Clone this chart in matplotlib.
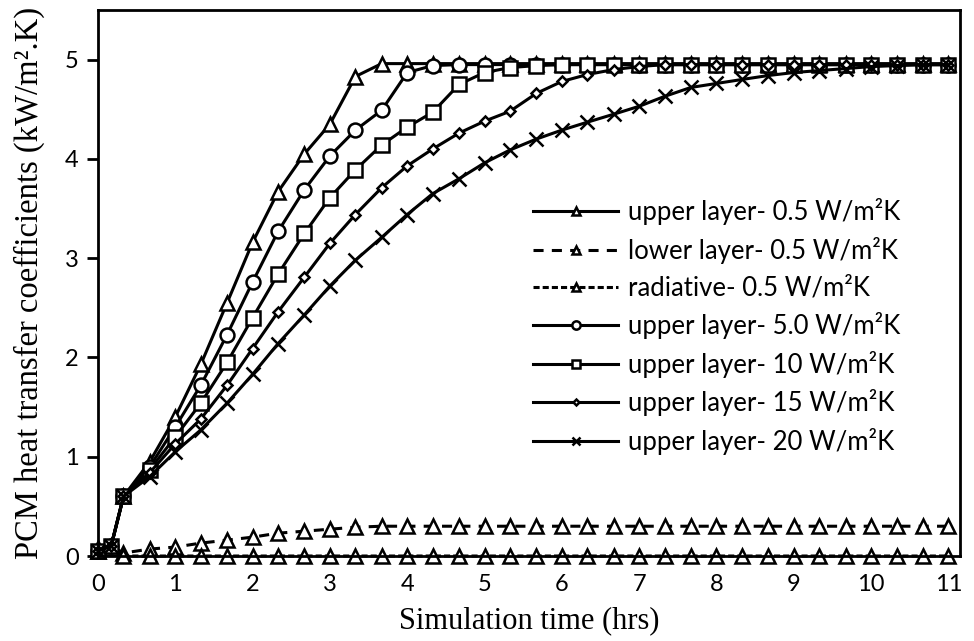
import matplotlib
matplotlib.use('Agg')
import matplotlib.pyplot as plt

# time axis (hrs)
t = [0.0, 0.17, 0.33, 0.67, 1.00, 1.33, 1.67, 2.00, 2.33, 2.67, 3.00, 3.33,
     3.67, 4.00, 4.33, 4.67, 5.00, 5.33, 5.67, 6.00, 6.33, 6.67, 7.00, 7.33,
     7.67, 8.00, 8.33, 8.67, 9.00, 9.33, 9.67, 10.00, 10.33, 10.67, 11.00]

# PCM heat transfer coefficients (kW/m2.K)
upper_05 = [0.05, 0.10, 0.60, 0.95, 1.40, 1.93, 2.55, 3.16, 3.67, 4.05, 4.35, 4.83,
            4.96, 4.96, 4.96, 4.96, 4.96, 4.96, 4.96, 4.96, 4.96, 4.96, 4.96, 4.96,
            4.96, 4.96, 4.96, 4.96, 4.96, 4.96, 4.96, 4.96, 4.96, 4.96, 4.96]
lower_05 = [0.05, 0.10, 0.03, 0.07, 0.09, 0.13, 0.16, 0.19, 0.23, 0.25, 0.27, 0.29,
            0.30, 0.30, 0.30, 0.30, 0.30, 0.30, 0.30, 0.30, 0.30, 0.30, 0.30, 0.30,
            0.30, 0.30, 0.30, 0.30, 0.30, 0.30, 0.30, 0.30, 0.30, 0.30, 0.30]
radiative_05 = [0.08, 0.08, 0.0, 0.0, 0.0, 0.0, 0.0, 0.0, 0.0, 0.0, 0.0, 0.0,
                0.0, 0.0, 0.0, 0.0, 0.0, 0.0, 0.0, 0.0, 0.0, 0.0, 0.0, 0.0,
                0.0, 0.0, 0.0, 0.0, 0.0, 0.0, 0.0, 0.0, 0.0, 0.0, 0.0]
upper_5 = [0.05, 0.10, 0.60, 0.90, 1.30, 1.72, 2.23, 2.76, 3.27, 3.69, 4.03, 4.29,
           4.49, 4.87, 4.94, 4.95, 4.95, 4.95, 4.95, 4.95, 4.95, 4.95, 4.95, 4.95,
           4.95, 4.95, 4.95, 4.95, 4.95, 4.95, 4.95, 4.95, 4.95, 4.95, 4.95]
upper_10 = [0.05, 0.10, 0.60, 0.87, 1.20, 1.54, 1.95, 2.40, 2.84, 3.25, 3.61, 3.89,
            4.14, 4.32, 4.47, 4.75, 4.87, 4.92, 4.94, 4.95, 4.95, 4.95, 4.95, 4.95,
            4.95, 4.95, 4.95, 4.95, 4.95, 4.95, 4.95, 4.95, 4.95, 4.95, 4.95]
upper_15 = [0.05, 0.10, 0.60, 0.84, 1.13, 1.38, 1.72, 2.09, 2.46, 2.81, 3.15, 3.44,
            3.71, 3.93, 4.10, 4.26, 4.38, 4.48, 4.66, 4.78, 4.85, 4.90, 4.93, 4.95,
            4.95, 4.95, 4.95, 4.95, 4.95, 4.95, 4.95, 4.95, 4.95, 4.95, 4.95]
upper_20 = [0.05, 0.10, 0.60, 0.80, 1.05, 1.27, 1.54, 1.83, 2.14, 2.43, 2.72, 2.98,
            3.21, 3.44, 3.65, 3.80, 3.96, 4.09, 4.20, 4.29, 4.37, 4.45, 4.53, 4.63,
            4.72, 4.76, 4.80, 4.84, 4.87, 4.89, 4.91, 4.93, 4.94, 4.95, 4.95]

labels = ['upper layer- 0.5 W/m²K', 'lower layer- 0.5 W/m²K', 'radiative- 0.5 W/m²K',
          'upper layer- 5.0 W/m²K', 'upper layer- 10 W/m²K', 'upper layer- 15 W/m²K',
          'upper layer- 20 W/m²K']

lw = 2.2
ms = 10
sans = 'Lato'
serif = 'Liberation Serif'

fig = plt.figure(figsize=(9.74, 6.41), dpi=100)
ax = fig.add_axes([0.1006, 0.1326, 0.885, 0.8518])

common = dict(color='black', lw=lw, mfc='white', mec='black', mew=1.8, clip_on=False)
ax.plot(t, upper_05, '^-', ms=ms, label=labels[0], **common)
ax.plot(t, lower_05, marker='^', ls=(0, (3.3, 2.7)), ms=ms, label=labels[1], **common)
ax.plot(t, radiative_05, marker='^', ls=(0, (2, 1)), ms=ms, label=labels[2], **common)
ax.plot(t, upper_5, 'o-', ms=ms, label=labels[3], **common)
ax.plot(t, upper_10, 's-', ms=ms, label=labels[4], **common)
ax.plot(t, upper_15, 'D-', ms=5, label=labels[5], **common)
ax.plot(t, upper_20, 'x-', ms=ms, label=labels[6], **common)

ax.set_xlim(0, 11.15)
ax.set_ylim(0, 5.5)
ax.set_xticks(range(0, 12))
ax.set_yticks(range(0, 6))
for s in ax.spines.values():
    s.set_linewidth(2)
ax.tick_params(axis='y', direction='out', length=8, width=2, labelsize=17, pad=6)
ax.tick_params(axis='x', length=0, labelsize=17, pad=13)
for lab in ax.get_xticklabels() + ax.get_yticklabels():
    lab.set_family(sans)

ax.set_xlabel('Simulation time (hrs)', family=serif, fontsize=22, labelpad=8)
ax.set_ylabel('PCM heat transfer coefficients (kW/m².K)', family=serif, fontsize=23.5,
              labelpad=14)

leg = ax.legend(loc='upper left', bbox_to_anchor=(0.505, 0.655), frameon=False,
                prop={'family': sans, 'size': 18.5}, handlelength=3.3, handletextpad=0.4,
                labelspacing=0.45, markerscale=0.6, borderpad=0, borderaxespad=0)

fig.savefig('out.png', dpi=100)
